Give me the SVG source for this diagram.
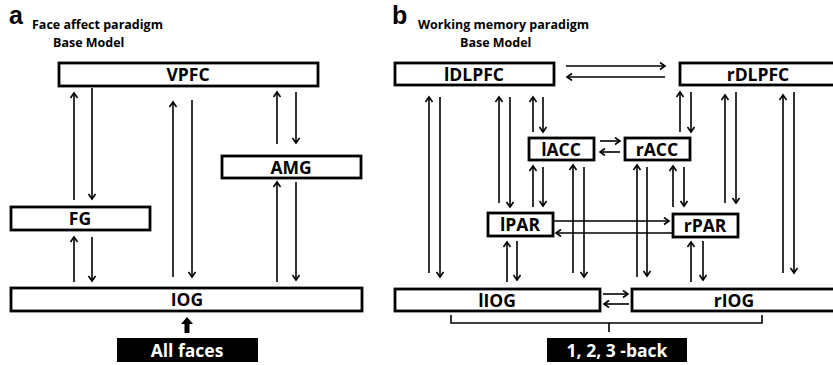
<svg xmlns="http://www.w3.org/2000/svg" width="833" height="365" viewBox="0 0 833 365">
<style>
.box{fill:#fff;stroke:#000;stroke-width:2.8}
.blk{fill:#000;stroke:none}
.lbl{font-family:"Open Sans","Liberation Sans",sans-serif;font-weight:bold;font-size:17.5px;text-anchor:middle;fill:#000}
.wl{fill:#fff}
.ttl{font-family:"Open Sans","Liberation Sans",sans-serif;font-weight:bold;font-size:12.5px;fill:#000}
.big{font-family:"Liberation Sans","Open Sans",sans-serif;font-weight:bold;font-size:25px;fill:#000}
.c line{stroke:#000;stroke-width:1.6;fill:none;marker-end:url(#ah)}
.brace{fill:none;stroke:#000;stroke-width:1.6}
</style>
<defs>
<marker id="ah" markerUnits="userSpaceOnUse" markerWidth="10" markerHeight="10" refX="6" refY="4" orient="auto">
<path d="M1,0.5 L6,4 L1,7.5" fill="none" stroke="#000" stroke-width="1.6"/>
</marker>
</defs>
<rect width="833" height="365" fill="#fff"/>

<g id="panel-a-title">
<text class="big" x="9" y="24">a</text>
<text class="ttl" x="32" y="29">Face affect paradigm</text>
<text class="ttl" x="53" y="47">Base Model</text>
</g>
<g id="panel-b-title">
<text class="big" x="392" y="24">b</text>
<text class="ttl" x="418" y="29">Working memory paradigm</text>
<text class="ttl" x="460" y="47">Base Model</text>
</g>

<g id="VPFC"><rect class="box" x="59" y="63" width="259" height="23"/><text class="lbl" x="188" y="81">VPFC</text></g>
<g id="FG"><rect class="box" x="11" y="207" width="139" height="23"/><text class="lbl" x="80" y="225">FG</text></g>
<g id="AMG"><rect class="box" x="222" y="156" width="139" height="22"/><text class="lbl" x="291" y="173.5">AMG</text></g>
<g id="IOG"><rect class="box" x="11" y="288" width="351" height="23"/><text class="lbl" x="187" y="306">IOG</text></g>
<g id="AllFaces"><rect class="blk" x="117" y="338" width="141" height="24"/><text class="lbl wl" x="187" y="356.5">All faces</text></g>

<g id="lDLPFC"><rect class="box" x="395" y="63" width="159" height="22"/><text class="lbl" x="474" y="80.5">lDLPFC</text></g>
<g id="rDLPFC"><rect class="box" x="680" y="63" width="160" height="22"/><text class="lbl" x="758" y="80.5">rDLPFC</text></g>
<g id="lACC"><rect class="box" x="529" y="138" width="65" height="22"/><text class="lbl" x="561" y="155.5">lACC</text></g>
<g id="rACC"><rect class="box" x="625" y="138" width="65" height="22"/><text class="lbl" x="657" y="155.5">rACC</text></g>
<g id="lPAR"><rect class="box" x="488" y="213" width="65" height="23"/><text class="lbl" x="520" y="231">lPAR</text></g>
<g id="rPAR"><rect class="box" x="673" y="214" width="65" height="23"/><text class="lbl" x="705" y="232">rPAR</text></g>
<g id="lIOG"><rect class="box" x="395" y="289" width="205" height="22"/><text class="lbl" x="497" y="306.5">lIOG</text></g>
<g id="rIOG"><rect class="box" x="632" y="289" width="204" height="22"/><text class="lbl" x="734" y="306.5">rIOG</text></g>
<g id="Task"><rect class="blk" x="547" y="338" width="140" height="24"/><text class="lbl wl" x="617" y="356.5">1, 2, 3 -back</text></g>

<g id="connectors" class="c">
<line x1="92" y1="88" x2="92" y2="199"/>
<line x1="74" y1="200" x2="74" y2="93"/>
<line x1="92" y1="237" x2="92" y2="281"/>
<line x1="74" y1="282" x2="74" y2="237"/>
<line x1="192" y1="100" x2="192" y2="277"/>
<line x1="173" y1="277" x2="173" y2="102"/>
<line x1="296" y1="92" x2="296" y2="143"/>
<line x1="277" y1="144" x2="277" y2="92"/>
<line x1="296" y1="182" x2="296" y2="280"/>
<line x1="277" y1="282" x2="277" y2="182"/>

<line x1="440" y1="97" x2="440" y2="277"/>
<line x1="429" y1="273" x2="429" y2="97"/>
<line x1="510" y1="97" x2="510" y2="207"/>
<line x1="499" y1="203" x2="499" y2="97"/>
<line x1="543" y1="97" x2="543" y2="132"/>
<line x1="533" y1="132" x2="533" y2="97"/>
<line x1="543" y1="167" x2="543" y2="206"/>
<line x1="533" y1="207" x2="533" y2="166"/>
<line x1="584" y1="167" x2="584" y2="277"/>
<line x1="573" y1="273" x2="573" y2="165"/>
<line x1="647" y1="167" x2="647" y2="276"/>
<line x1="637" y1="277" x2="637" y2="165"/>
<line x1="684" y1="167" x2="684" y2="206"/>
<line x1="673" y1="207" x2="673" y2="166"/>
<line x1="691" y1="92" x2="691" y2="132"/>
<line x1="680" y1="132" x2="680" y2="92"/>
<line x1="736" y1="92" x2="736" y2="203"/>
<line x1="725" y1="203" x2="725" y2="95"/>
<line x1="794" y1="92" x2="794" y2="273"/>
<line x1="783" y1="273" x2="783" y2="95"/>
<line x1="566" y1="66" x2="665" y2="66"/>
<line x1="665" y1="77" x2="567" y2="77"/>
<line x1="600" y1="141" x2="620" y2="141"/>
<line x1="620" y1="152" x2="600" y2="152"/>
<line x1="553" y1="221" x2="669" y2="221"/>
<line x1="673" y1="233" x2="556" y2="233"/>
<line x1="517" y1="241" x2="517" y2="280"/>
<line x1="507" y1="282" x2="507" y2="242"/>
<line x1="703" y1="241" x2="703" y2="280"/>
<line x1="691" y1="282" x2="691" y2="242"/>
<line x1="603" y1="294" x2="628" y2="294"/>
<line x1="629" y1="304" x2="604" y2="304"/>
</g>
<g id="input-arrow">
<polygon class="blk" points="187,317 193,324 189.5,324 189.5,333 184.5,333 184.5,324 181,324"/>
</g>
<g id="brace">
<path class="brace" d="M451,315 V323 H762 V315 M609,323 V332"/>
</g>
</svg>
